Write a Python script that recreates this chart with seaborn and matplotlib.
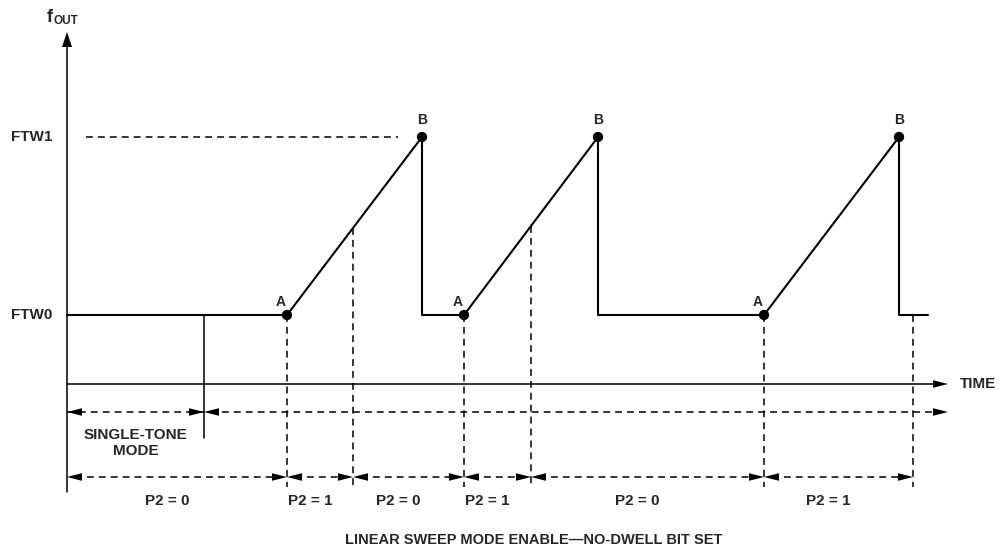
import numpy as np
import pandas as pd
import matplotlib
matplotlib.use("Agg")
import matplotlib.pyplot as plt
import seaborn as sns

# diagram values (time / frequency positions on the drawing grid)
levels = {"FTW0": 315, "FTW1": 137}
t_origin = 67
t_end = 948
t_single_tone_end = 204
sweep_start = [287, 464, 764]          # points A
sweep_end = [422, 598, 899]            # points B
dwell_end = 928
p2_bounds = [67, 287, 353, 464, 531, 764, 913]
p2_values = ["P2 = 0", "P2 = 1", "P2 = 0", "P2 = 1", "P2 = 0", "P2 = 1"]
mid_marks = [353, 531]                 # P2 falls back to 0 during the ramp
title = "LINEAR SWEEP MODE ENABLE\u2014NO-DWELL BIT SET"

# rows of the drawing
y_time = 384
y_row1 = 412
y_row2 = 477
y_axis_top = 32
y_axis_bottom = 492
y_dash_bottom = 487

sns.set_theme(style="white")
plt.rcParams["font.family"] = ["Liberation Sans", "DejaVu Sans"]

fig = plt.figure(figsize=(9.99, 5.55), dpi=100)
ax = fig.add_axes([0, 0, 1, 1])

f0, f1 = levels["FTW0"], levels["FTW1"]

# output frequency trace
xs, ys = [t_origin], [f0]
for a, b in zip(sweep_start, sweep_end):
    xs += [a, b, b]
    ys += [f0, f1, f0]
xs.append(dwell_end)
ys.append(f0)
trace = pd.DataFrame({"t": xs, "f": ys})
sns.lineplot(data=trace, x="t", y="f", sort=False, estimator=None,
             color="black", lw=1.5, ax=ax)

pts = pd.DataFrame({"t": sweep_start + sweep_end,
                    "f": [f0] * 3 + [f1] * 3})
sns.scatterplot(data=pts, x="t", y="f", color="black", s=55,
                edgecolor="none", zorder=5, ax=ax)

for a in sweep_start:
    ax.text(a - 6, f0 - 13, "A", ha="center", va="center",
            fontsize=10, fontweight="bold")
for b in sweep_end:
    ax.text(b, f1 - 17, "B", ha="center", va="center",
            fontsize=10, fontweight="bold")

LW = 1.1
DASH = (4.5, 3.3)


def head(x, y, d, L=15, h=3.8):
    # filled arrowhead, tip at (x, y); d = +1 right, -1 left
    ax.fill([x, x - d * L, x - d * L], [y, y - h, y + h],
            color="black", lw=0, zorder=4)


# axes
ax.plot([t_origin, t_origin], [y_axis_bottom, y_axis_top + 14], color="black", lw=LW)
ax.fill([t_origin - 5, t_origin + 5, t_origin],
        [y_axis_top + 15, y_axis_top + 15, y_axis_top], color="black", lw=0)
ax.plot([t_origin, t_end - 10], [y_time, y_time], color="black", lw=LW)
head(t_end, y_time, 1)
ax.text(t_end + 12, y_time, "TIME", ha="left", va="center",
        fontsize=11, fontweight="bold")

ax.text(47, 22, "f", ha="left", va="baseline", fontsize=13, fontweight="bold")
ax.text(54, 24, "OUT", ha="left", va="baseline", fontsize=8.5, fontweight="bold")

for name, yv in levels.items():
    ax.text(52, yv, name, ha="right", va="center", fontsize=11, fontweight="bold")
ax.plot([86, 398], [f1, f1], color="black", lw=LW, dashes=DASH)

# single-tone boundary and first arrow row
ax.plot([t_single_tone_end, t_single_tone_end], [f0, 438], color="black", lw=LW)
ax.plot([t_origin, t_end - 10], [y_row1, y_row1], color="black", lw=LW, dashes=DASH)
head(t_origin, y_row1, -1)
head(t_single_tone_end, y_row1, 1)
head(t_single_tone_end, y_row1, -1)
head(t_end, y_row1, 1)
ax.text((t_origin + t_single_tone_end) / 2, 443, "SINGLE-TONE\nMODE",
        ha="center", va="center", fontsize=11, fontweight="bold",
        linespacing=1.15)

# dashed drop lines
for a in sweep_start + [p2_bounds[-1]]:
    ax.plot([a, a], [f0, y_dash_bottom], color="black", lw=LW, dashes=DASH)
for i, m in enumerate(mid_marks):
    a, b = sweep_start[i], sweep_end[i]
    ym = np.interp(m, [a, b], [f0, f1])
    ax.plot([m, m], [ym, y_dash_bottom], color="black", lw=LW, dashes=DASH)

# P2 arrow row
for l, r, lab in zip(p2_bounds[:-1], p2_bounds[1:], p2_values):
    ax.plot([l + 8, r - 8], [y_row2, y_row2], color="black", lw=LW, dashes=DASH)
    head(l, y_row2, -1)
    head(r, y_row2, 1)
    ax.text((l + r) / 2 - 10, 501, lab, ha="center", va="center",
            fontsize=11, fontweight="bold")

ax.text(345, 540, title, ha="left", va="center", fontsize=10.5, fontweight="bold")

ax.set_xlim(0, 999)
ax.set_ylim(555, 0)
ax.axis("off")
fig.savefig("out.png", dpi=100, facecolor="white")
